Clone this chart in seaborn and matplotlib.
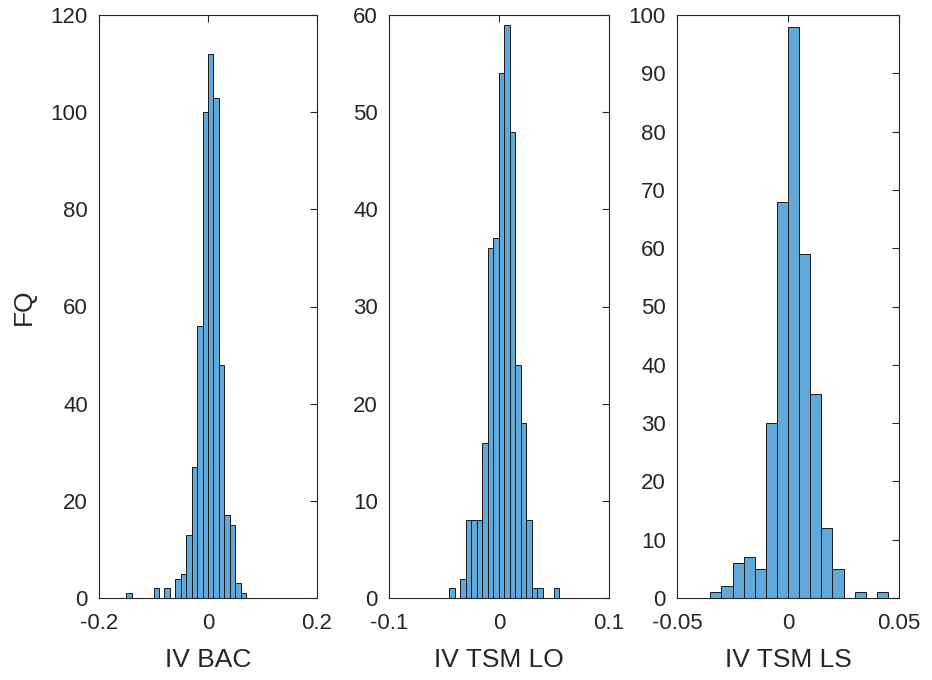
import numpy as np
import pandas as pd
import matplotlib
matplotlib.use("Agg")
import matplotlib.pyplot as plt
import seaborn as sns

# ---- data ----
titles = ["IV BAC", "IV TSM LO", "IV TSM LS"]

bac_bin_start = -0.15
bac_bin_width = 0.01
bac_counts = [1, 0, 0, 0, 0, 2, 0, 2, 0, 4, 5, 13, 27, 56, 100, 112, 103, 48, 17, 15, 3, 1]

lo_bin_start = -0.045
lo_bin_width = 0.005
lo_counts = [1, 0, 2, 8, 8, 8, 16, 36, 37, 54, 59, 48, 24, 18, 8, 1, 1, 0, 0, 1]

ls_bin_start = -0.035
ls_bin_width = 0.005
ls_counts = [1, 2, 6, 7, 5, 30, 68, 98, 59, 35, 12, 5, 0, 1, 0, 1]

x_ticks = [[-0.2, 0, 0.2], [-0.1, 0, 0.1], [-0.05, 0, 0.05]]
x_ticklabels = [["-0.2", "0", "0.2"], ["-0.1", "0", "0.1"], ["-0.05", "0", "0.05"]]
y_max = [120, 60, 100]
y_step = [20, 10, 10]

series = [
    (bac_bin_start, bac_bin_width, bac_counts),
    (lo_bin_start, lo_bin_width, lo_counts),
    (ls_bin_start, ls_bin_width, ls_counts),
]

# ---- style ----
sns.set_style("white")
plt.rcParams["font.family"] = ["Liberation Sans", "DejaVu Sans"]
plt.rcParams["axes.unicode_minus"] = False

TXT = "#262626"
BAR = "#62A8D8"

fig = plt.figure(figsize=(9.32, 6.8), dpi=100)
lefts = [99, 389, 677]
widths = [218, 220, 222]
top_px, bot_px = 15, 598
W, H = 932, 680

for i, (start, bw, counts) in enumerate(series):
    ax = fig.add_axes([lefts[i] / W, 1 - bot_px / H, widths[i] / W, (bot_px - top_px) / H])
    n = len(counts)
    centers = start + bw * (np.arange(n) + 0.5)
    df = pd.DataFrame({"x": centers, "w": np.asarray(counts, dtype=float)})
    sns.histplot(data=df, x="x", weights="w", binwidth=bw,
                 binrange=(start, start + bw * n), ax=ax,
                 color=BAR, edgecolor="#1a1a1a", linewidth=0.7, alpha=1.0)
    ax.set_xlim(x_ticks[i][0], x_ticks[i][-1])
    ax.set_ylim(0, y_max[i])
    ax.set_xticks(x_ticks[i])
    ax.set_xticklabels(x_ticklabels[i])
    ax.set_yticks(np.arange(0, y_max[i] + 1, y_step[i]))
    ax.tick_params(axis="both", direction="in", top=True, right=True, length=5,
                   width=0.8, color=TXT, labelcolor=TXT, labelsize=16)
    ax.tick_params(axis="x", pad=11)
    ax.tick_params(axis="y", pad=8)
    for sp in ax.spines.values():
        sp.set_visible(True)
        sp.set_color(TXT)
        sp.set_linewidth(0.8)
    ax.set_xlabel(titles[i], fontsize=19, color=TXT)
    ax.xaxis.set_label_coords(0.5, -0.085)
    if i == 0:
        ax.set_ylabel("FQ", fontsize=19, color=TXT)
        ax.yaxis.set_label_coords(-0.29, 0.5)
    else:
        ax.set_ylabel("")

fig.savefig("out.png", dpi=100)
